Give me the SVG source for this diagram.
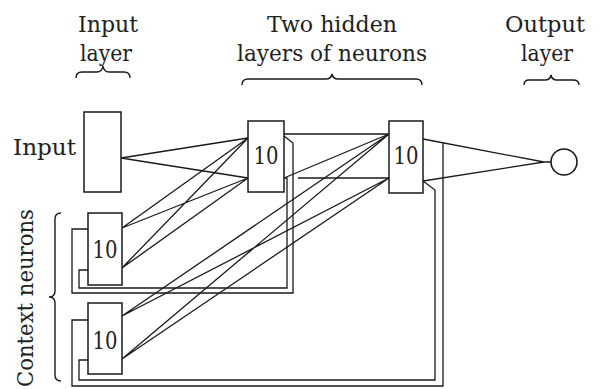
<svg xmlns="http://www.w3.org/2000/svg" width="602" height="389" viewBox="0 0 602 389">
<style>
text{font-family:'DejaVu Serif','Liberation Serif',serif;fill:#222}
.h{font-size:22px;text-anchor:middle}
.n{font-size:24px;text-anchor:middle}
.box{fill:#fff;stroke:#1a1a1a;stroke-width:1.5}
.ln{fill:none;stroke:#1a1a1a;stroke-width:1.3}
.br{fill:none;stroke:#1a1a1a;stroke-width:1.4}
</style>
<rect width="602" height="389" fill="#fff"/>
<g id="headers">
<text class="h" x="108" y="32" textLength="60" lengthAdjust="spacingAndGlyphs">Input</text>
<text class="h" x="106" y="61" textLength="52" lengthAdjust="spacingAndGlyphs">layer</text>
<path class="br" d="M76,78 Q76,72 82,72 L97,72 Q102,72 103,66 Q104,72 109,72 L124,72 Q130,72 130,78"/>
<text class="h" x="332" y="32" textLength="130" lengthAdjust="spacingAndGlyphs">Two hidden</text>
<text class="h" x="332" y="61" textLength="190" lengthAdjust="spacingAndGlyphs">layers of neurons</text>
<path class="br" d="M242,85 Q242,79 248,79 L326,79 Q331,79 332,74 Q333,79 338,79 L416,79 Q422,79 422,85"/>
<text class="h" x="545" y="32" textLength="80" lengthAdjust="spacingAndGlyphs">Output</text>
<text class="h" x="547" y="61" textLength="52" lengthAdjust="spacingAndGlyphs">layer</text>
<path class="br" d="M524,85 Q524,80 529,80 L545,80 Q550,80 551,75 Q552,80 557,80 L573,80 Q579,80 579,85"/>
<text class="h" transform="translate(33,298) rotate(-90)" textLength="178" lengthAdjust="spacingAndGlyphs">Context neurons</text>
<path class="br" d="M61,213 Q55,213 55,219 L55,291 Q55,297 49,297 Q55,297 55,303 L55,375 Q55,381 61,381"/>
</g>
<g id="connectors">
<path class="ln" d="M121,158 L248,138 M121,158 L248,178"/>
<path class="ln" d="M122,228 L248,138 M122,228 L248,178 M122,268 L248,138 M122,268 L248,178"/>
<path class="ln" d="M122,316 L389,134 M122,316 L389,178 M122,359 L389,134 M122,359 L389,178"/>
<path class="ln" d="M284,134 L389,134 M284,178 L389,134 M298,178 L389,178"/>
<path class="ln" d="M284,136 L293,143 L293,293 L72,293 L72,229 L88,229"/>
<path class="ln" d="M284,178 L287,178 L287,288 L79,288 L79,270 L88,270"/>
<path class="ln" d="M443,143 L443,386 L72,386 L72,320 L88,320"/>
<path class="ln" d="M423,181 L435,190 L435,380 L79,380 L79,360 L88,360"/>
<path class="ln" d="M423,139 L544,162 L423,181 M544,162 L551,162"/>
</g>
<g id="input-node">
<rect class="box" x="84" y="112" width="37" height="80"/>
<text x="13" y="155" font-size="22" textLength="63" lengthAdjust="spacingAndGlyphs">Input</text>
</g>
<g id="hidden1">
<rect class="box" x="248" y="121" width="36" height="71"/>
<text class="n" x="266" y="164" textLength="25" lengthAdjust="spacingAndGlyphs">10</text>
</g>
<g id="hidden2">
<rect class="box" x="389" y="121" width="34" height="72"/>
<text class="n" x="406" y="164" textLength="25" lengthAdjust="spacingAndGlyphs">10</text>
</g>
<g id="context1">
<rect class="box" x="88" y="213" width="34" height="72"/>
<text class="n" x="105" y="258" textLength="25" lengthAdjust="spacingAndGlyphs">10</text>
</g>
<g id="context2">
<rect class="box" x="88" y="303" width="34" height="71"/>
<text class="n" x="105" y="349" textLength="25" lengthAdjust="spacingAndGlyphs">10</text>
</g>
<g id="output">
<circle cx="564" cy="162" r="13" fill="#fff" stroke="#1a1a1a" stroke-width="1.6"/>
</g>
</svg>
